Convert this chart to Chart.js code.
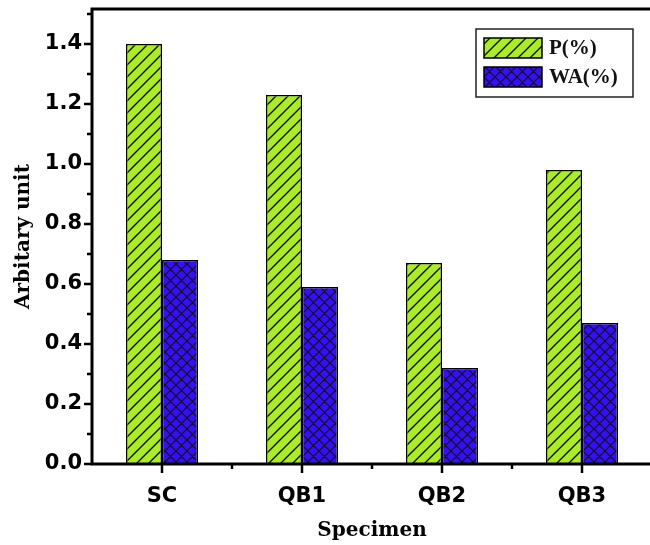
<!DOCTYPE html>
<html>
<head>
<meta charset="utf-8">
<script src="https://cdn.jsdelivr.net/npm/chart.js@4/dist/chart.umd.min.js"></script>
<style>
  html, body { margin:0; padding:0; background:#fff; overflow:hidden; }
  #wrap { width:660px; height:545px; }
</style>
</head>
<body>
<div id="wrap"><canvas id="c" width="660" height="545"></canvas></div>
<script>
/* ── data ── */
const specimens   = ["SC", "QB1", "QB2", "QB3"];
const pValues     = [1.40, 1.23, 0.67, 0.98];
const waValues    = [0.68, 0.59, 0.32, 0.47];
const yMajorTicks = [0.0, 0.2, 0.4, 0.6, 0.8, 1.0, 1.2, 1.4];
const yMinorTicks = [0.1, 0.3, 0.5, 0.7, 0.9, 1.1, 1.3, 1.5];

const GREEN = "#aaec2c";
const BLUE  = "#3510f4";

/* ── hatch patterns ── */
function makePattern(size, fill, dirs, lw) {
  const cv = document.createElement("canvas");
  cv.width = size; cv.height = size;
  const g = cv.getContext("2d");
  g.fillStyle = fill;
  g.fillRect(0, 0, size, size);
  g.strokeStyle = "#111";
  g.lineWidth = lw;
  g.beginPath();
  for (let dx = -size; dx <= size; dx += size) {
    for (let dy = -size; dy <= size; dy += size) {
      if (dirs.includes("/")) { g.moveTo(dx, dy + size); g.lineTo(dx + size, dy); }
      if (dirs.includes("\\")) { g.moveTo(dx, dy); g.lineTo(dx + size, dy + size); }
    }
  }
  g.stroke();
  return g.createPattern(cv, "repeat");
}
const greenHatch = makePattern(12, GREEN, "/", 1.4);
const blueHatch  = makePattern(11, BLUE, "/\\", 1.1);

/* ── axes, frame, ticks, legend ── */
const framePlugin = {
  id: "frame",
  afterDatasetsDraw(chart) {
    const { ctx, chartArea: a, scales: { x, y } } = chart;
    ctx.save();
    ctx.strokeStyle = "#000";
    ctx.lineWidth = 3;
    ctx.lineCap = "square";
    ctx.strokeRect(a.left, a.top, a.right - a.left, a.bottom - a.top);

    ctx.lineCap = "butt";
    ctx.lineWidth = 2.5;
    ctx.beginPath();
    yMajorTicks.forEach(v => { const py = y.getPixelForValue(v); ctx.moveTo(a.left, py); ctx.lineTo(a.left - 8, py); });
    yMinorTicks.forEach(v => { const py = y.getPixelForValue(v); ctx.moveTo(a.left, py); ctx.lineTo(a.left - 5, py); });
    specimens.forEach((s, i) => {
      const px = x.getPixelForValue(i);
      ctx.moveTo(px, a.bottom); ctx.lineTo(px, a.bottom + 9);
      if (i < specimens.length - 1) {
        const mx = (px + x.getPixelForValue(i + 1)) / 2;
        ctx.moveTo(mx, a.bottom); ctx.lineTo(mx, a.bottom + 5);
      }
    });
    ctx.stroke();
    ctx.restore();
  },
  afterDraw(chart) {
    const { ctx } = chart;
    const bx = 476, by = 29, bw = 157, bh = 68;
    ctx.save();
    ctx.fillStyle = "#fff";
    ctx.fillRect(bx, by, bw, bh);
    ctx.strokeStyle = "#222";
    ctx.lineWidth = 1.5;
    ctx.strokeRect(bx, by, bw, bh);
    chart.data.datasets.forEach((ds, i) => {
      const sy = by + 9 + i * 29;
      ctx.fillStyle = ds.backgroundColor;
      ctx.fillRect(bx + 8, sy, 58, 20);
      ctx.lineWidth = 1.5;
      ctx.strokeStyle = "#000";
      ctx.strokeRect(bx + 8, sy, 58, 20);
      ctx.fillStyle = "#111";
      ctx.font = "bold 21px 'Liberation Serif', serif";
      ctx.textBaseline = "middle";
      ctx.textAlign = "left";
      ctx.fillText(ds.label, bx + 73, sy + 11);
    });
    ctx.restore();
  }
};

const noPad = s => { s.paddingTop = 0; s.paddingBottom = 0; s.paddingLeft = 0; s.paddingRight = 0; };

/* ── chart ── */
new Chart(document.getElementById("c"), {
  type: "bar",
  data: {
    labels: specimens,
    datasets: [
      { label: "P(%)",  data: pValues,  backgroundColor: greenHatch, borderColor: "#000", borderWidth: 1.5 },
      { label: "WA(%)", data: waValues, backgroundColor: blueHatch,  borderColor: "#000", borderWidth: 1.5 },
    ],
  },
  options: {
    responsive: false,
    animation: false,
    devicePixelRatio: 1,
    layout: { padding: { left: 0, right: 8, top: 9, bottom: 0 } },
    datasets: { bar: { categoryPercentage: 0.514, barPercentage: 1.0 } },
    plugins: { legend: { display: false }, tooltip: { enabled: false } },
    scales: {
      x: {
        offset: true,
        grid: { display: false, drawTicks: false },
        border: { display: false },
        ticks: {
          color: "#000", padding: 20,
          font: { family: "'DejaVu Sans', sans-serif", size: 21, weight: "bold" },
        },
        title: {
          display: true, text: "Specimen", color: "#000",
          padding: { top: 0, bottom: 2 },
          font: { family: "'DejaVu Serif', serif", size: 20, weight: "bold" },
        },
        afterFit: s => { s.height = 81; noPad(s); },
      },
      y: {
        min: 0, max: 1.5167,
        grid: { display: false, drawTicks: false },
        border: { display: false },
        afterBuildTicks: s => { s.ticks = yMajorTicks.map(v => ({ value: v })); },
        ticks: {
          color: "#000", padding: 10,
          callback: v => v.toFixed(1),
          font: { family: "'DejaVu Sans', sans-serif", size: 21, weight: "bold" },
        },
        title: {
          display: true, text: "Arbitary unit", color: "#000",
          padding: { top: 12, bottom: 0 },
          font: { family: "'DejaVu Serif', serif", size: 20, weight: "bold" },
        },
        afterFit: s => { s.width = 92; noPad(s); },
      },
    },
  },
  plugins: [framePlugin],
});
</script>
</body>
</html>
